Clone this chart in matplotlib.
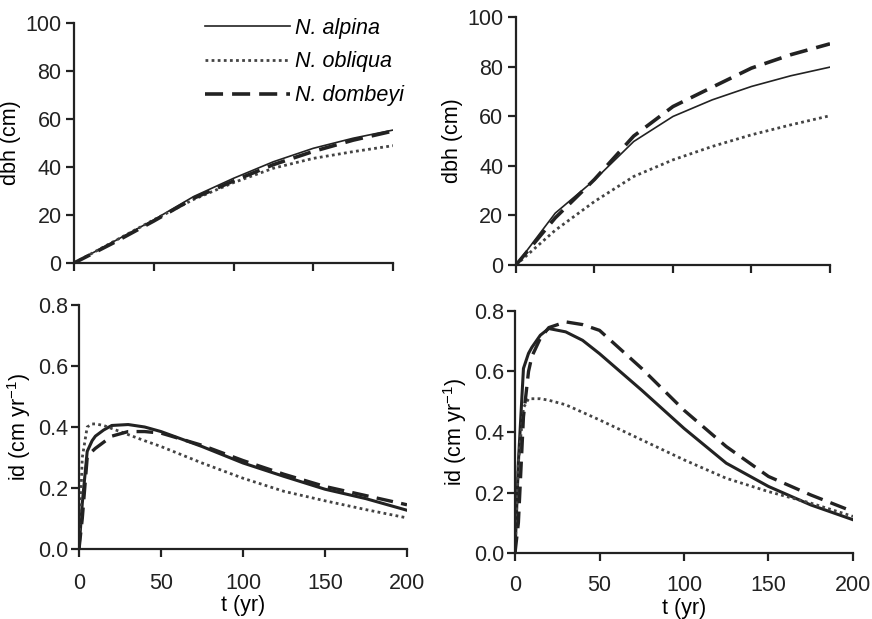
import matplotlib
matplotlib.use("Agg")
import matplotlib.pyplot as plt

plt.rcParams['font.family'] = ['Liberation Sans', 'DejaVu Sans']
plt.rcParams['mathtext.default'] = 'regular'

species = ["N. alpina", "N. obliqua", "N. dombeyi"]

# dbh (cm), left panel
t_dbh = [0, 25, 50, 75, 100, 125, 150, 175, 200]
dbh_L_alpina = [0, 9.0, 18.0, 27.7, 35.3, 42.2, 47.8, 52.0, 55.4]
dbh_L_obliqua = [0, 9.0, 18.0, 26.5, 33.5, 39.5, 43.6, 46.4, 48.9]
dbh_L_dombeyi = [0, 8.5, 17.5, 27.0, 34.2, 41.0, 46.5, 51.2, 55.0]

# dbh (cm), right panel
dbh_R_alpina = [0, 20.9, 34.3, 49.8, 59.9, 66.6, 72.0, 76.3, 79.8]
dbh_R_obliqua = [0, 14.0, 25.6, 35.7, 42.4, 47.8, 52.5, 56.5, 60.2]
dbh_R_dombeyi = [0, 19.0, 34.5, 52.0, 63.9, 71.7, 79.4, 84.8, 89.2]

# id (cm/yr)
t_id = [0, 2, 5, 8, 10, 15, 20, 30, 40, 50, 75, 100, 125, 150, 175, 200]
id_L_alpina = [0, 0.15, 0.32, 0.355, 0.37, 0.39, 0.405, 0.408, 0.40, 0.385, 0.336, 0.282, 0.238, 0.196, 0.165, 0.127]
id_L_obliqua = [0, 0.30, 0.40, 0.41, 0.41, 0.405, 0.395, 0.375, 0.355, 0.336, 0.282, 0.232, 0.189, 0.158, 0.129, 0.102]
id_L_dombeyi = [0, 0.10, 0.30, 0.32, 0.33, 0.35, 0.37, 0.385, 0.385, 0.38, 0.34, 0.29, 0.245, 0.205, 0.175, 0.145]

id_R_alpina = [0, 0.30, 0.61, 0.66, 0.68, 0.72, 0.742, 0.731, 0.703, 0.659, 0.538, 0.412, 0.297, 0.22, 0.159, 0.11]
id_R_obliqua = [0, 0.30, 0.48, 0.51, 0.51, 0.51, 0.505, 0.49, 0.465, 0.44, 0.374, 0.308, 0.247, 0.203, 0.165, 0.121]
id_R_dombeyi = [0, 0.10, 0.45, 0.60, 0.65, 0.71, 0.745, 0.764, 0.755, 0.736, 0.61, 0.472, 0.352, 0.253, 0.192, 0.137]

styles = [dict(color='#222222', ls='-'),
          dict(color='#444444', ls=(0, (1, 1.2))),
          dict(color='#222222', ls=(0, (5, 2.5)))]

fig = plt.figure(figsize=(8.72, 6.19), dpi=100)
ax_tl = fig.add_axes([0.0849, 0.5751, 0.3658, 0.3877])
ax_tr = fig.add_axes([0.5917, 0.5719, 0.3601, 0.4006])
ax_bl = fig.add_axes([0.0906, 0.1131, 0.3761, 0.3942])
ax_br = fig.add_axes([0.5906, 0.1066, 0.3876, 0.3910])

FS = 15.5

def style_axis(ax, xpad=3, ypad=3):
    for s in ['top', 'right']:
        ax.spines[s].set_visible(False)
    for s in ['left', 'bottom']:
        ax.spines[s].set_linewidth(1.6)
        ax.spines[s].set_color('#222222')
    ax.tick_params(direction='out', length=6, width=1.6, labelsize=FS, colors='#222222')
    ax.tick_params(axis='x', pad=xpad)
    ax.tick_params(axis='y', pad=ypad)
    ax.set_xlim(0, 200)
    ax.set_xticks([0, 50, 100, 150, 200])

lw_top = [1.2, 2.0, 2.6]
for ax, series in [(ax_tl, [dbh_L_alpina, dbh_L_obliqua, dbh_L_dombeyi]),
                   (ax_tr, [dbh_R_alpina, dbh_R_obliqua, dbh_R_dombeyi])]:
    for name, y, st, lw in zip(species, series, styles, lw_top):
        ax.plot(t_dbh, y, lw=lw, label=name, **st)
    style_axis(ax)
    ax.set_ylim(0, 100)
    ax.set_yticks([0, 20, 40, 60, 80, 100])
    ax.set_xticklabels([])
    ax.set_ylabel('dbh (cm)', fontsize=FS, labelpad=3)

lw_bot = [2.2, 2.0, 2.4]
for ax, series, xpad, lpad in [(ax_bl, [id_L_alpina, id_L_obliqua, id_L_dombeyi], 11.0, 0.8),
                               (ax_br, [id_R_alpina, id_R_obliqua, id_R_dombeyi], 10.0, 1.5)]:
    for name, y, st, lw in zip(species, series, styles, lw_bot):
        ax.plot(t_id, y, lw=lw, label=name, **st)
    style_axis(ax, xpad=xpad, ypad=2)
    ax.set_ylim(0, 0.8)
    ax.set_yticks([0, 0.2, 0.4, 0.6, 0.8])
    ax.set_yticklabels(['0.0', '0.2', '0.4', '0.6', '0.8'])
    ax.set_xlabel('t (yr)', fontsize=FS, labelpad=lpad)
    ax.set_ylabel(r'id (cm yr$^{-1}$)', fontsize=FS, labelpad=3)

leg = ax_tl.legend(loc='upper left', bbox_to_anchor=(0.41, 1.023), frameon=False,
                   handlelength=3.95, handletextpad=0.25,
                   labelspacing=0.6, borderpad=0, borderaxespad=0,
                   prop={'style': 'italic', 'size': FS})

fig.savefig('out.png', dpi=100)
